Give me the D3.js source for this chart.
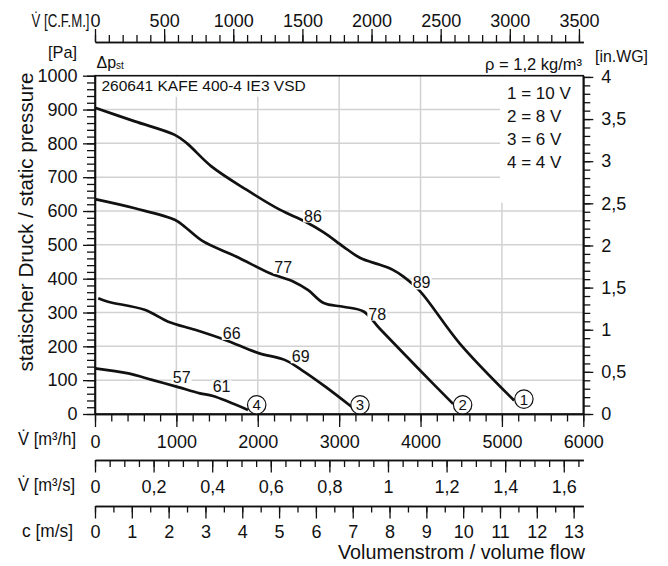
<!DOCTYPE html>
<html>
<head>
<meta charset="utf-8">
<script src="https://cdn.jsdelivr.net/npm/d3@7"></script>
<style>
  html, body { margin: 0; padding: 0; background: #fff; }
  svg { display: block; }
  text { font-family: "Liberation Sans", Arial, sans-serif; fill: #111; }
  .axis path, .axis line { stroke: #111; stroke-width: 1.3; }
  .axis text { font-size: 18px; fill: #111; }
</style>
</head>
<body>
<div id="chart"></div>
<script>
// curves: [volume flow m3/h, static pressure Pa]
var curve1 = [[0, 905], [490, 865], [980, 825], [1130, 800], [1430, 732], [1860, 663], [2270, 604], [2580, 569], [2810, 537], [3050, 495], [3260, 461], [3500, 441], [3660, 426], [3790, 406], [3990, 364], [4480, 209], [5150, 40]]
var curve2 = [[0, 635], [490, 608], [980, 574], [1110, 552], [1330, 510], [1740, 465], [2150, 416], [2440, 391], [2620, 366], [2810, 328], [3050, 317], [3300, 303], [3500, 252], [3990, 130], [4400, 30]]
var curve3 = [[40, 342], [160, 332], [610, 308], [900, 273], [1230, 249], [1600, 219], [2010, 180], [2330, 160], [2540, 130], [2830, 81], [3160, 20]]
var curve4 = [[0, 135], [410, 120], [700, 101], [1000, 81], [1290, 61], [1450, 53], [1880, 12]]

// efficiency labels on the curves
var effLabels = ['86', '89', '77', '78', '66', '69', '57', '61']
var effQ = [2678, 4013, 2313, 3468, 1679, 2527, 1065, 1556]
var effP = [586, 388, 434, 296, 239, 170, 109, 81]

// circled curve numbers
var speedNames = ['1', '2', '3', '4']
var circleQ = [5270, 4517, 3256, 1987]
var circleP = [44, 27, 27, 27]

var legendLines = ['1 = 10 V', '2 = 8 V', '3 = 6 V', '4 = 4 V']

// tick labels
var paTicks = [0, 100, 200, 300, 400, 500, 600, 700, 800, 900, 1000]
var inwgTicks = [0, 0.5, 1, 1.5, 2, 2.5, 3, 3.5, 4]
var cfmTicks = [0, 500, 1000, 1500, 2000, 2500, 3000, 3500]
var m3hTicks = [0, 1000, 2000, 3000, 4000, 5000, 6000]
var m3sTicks = [0, 0.2, 0.4, 0.6, 0.8, 1, 1.2, 1.4, 1.6]
var cTicks = [0, 1, 2, 3, 4, 5, 6, 7, 8, 9, 10, 11, 12, 13]

var Q_MAX = 6000
var CFM = 1.69901 // m3/h per cfm
var INWG = 249.089 // Pa per in.WG
var AREA = Math.PI * 0.2 * 0.2 // m2, 400 mm

var W = 668
var H = 566
var pLeft = 95
var pRight = 583.3
var pTop = 75.7
var pBottom = 414

var svg = d3.select('#chart').append('svg')
  .attr('width', W)
  .attr('height', H)

var x = d3.scaleLinear().domain([0, Q_MAX]).range([pLeft, pRight])
var y = d3.scaleLinear().domain([0, 1000]).range([pBottom, pTop])
var xCfm = d3.scaleLinear().domain([0, Q_MAX / CFM]).range([pLeft, pRight])
var xM3s = d3.scaleLinear().domain([0, Q_MAX / 3600]).range([pLeft, pRight])
var xC = d3.scaleLinear().domain([0, Q_MAX / 3600 / AREA]).range([pLeft, pRight])
var yIn = d3.scaleLinear().domain([0, 1000 / INWG]).range([pBottom, pTop])

var comma = function (v) { return String(+v.toFixed(2)).replace('.', ',') }

// grid
var grid = svg.append('g').attr('stroke', '#d2d2d2').attr('stroke-width', 1.5)
grid.selectAll('line.v').data([1000, 2000, 3000, 4000, 5000]).join('line')
  .attr('class', 'v')
  .attr('x1', function (d) { return x(d) }).attr('x2', function (d) { return x(d) })
  .attr('y1', pTop).attr('y2', pBottom)
grid.selectAll('line.h').data([100, 200, 300, 400, 500, 600, 700, 800, 900]).join('line')
  .attr('class', 'h')
  .attr('x1', pLeft).attr('x2', pRight)
  .attr('y1', function (d) { return y(d) }).attr('y2', function (d) { return y(d) })

// white boxes behind the title and the legend
svg.append('rect').attr('x', pLeft + 1).attr('y', pTop + 1).attr('width', 216).attr('height', 20).attr('fill', '#fff')
svg.append('rect').attr('x', 500).attr('y', pTop + 1).attr('width', pRight - 501).attr('height', 126).attr('fill', '#fff')

svg.append('text').attr('x', 101.5).attr('y', 91)
  .style('font-size', '15.5px').text('260641 KAFE 400-4 IE3 VSD')

svg.selectAll('text.legend').data(legendLines).join('text')
  .attr('class', 'legend')
  .attr('x', 507).attr('y', function (d, i) { return 99 + i * 23 })
  .style('font-size', '17px')
  .text(function (d) { return d })

// frame
svg.append('rect').attr('x', pLeft).attr('y', pTop)
  .attr('width', pRight - pLeft).attr('height', pBottom - pTop)
  .attr('fill', 'none').attr('stroke', '#111').attr('stroke-width', 1.6)

// curves
var line = d3.line()
  .x(function (d) { return x(d[0]) })
  .y(function (d) { return y(d[1]) })
  .curve(d3.curveCatmullRom.alpha(0.5))

svg.append('g').selectAll('path').data([curve1, curve2, curve3, curve4]).join('path')
  .attr('d', line)
  .attr('fill', 'none').attr('stroke', '#111').attr('stroke-width', 2.7)
  .attr('stroke-linejoin', 'round')

// efficiency labels with white background
var eff = svg.append('g').selectAll('g').data(effLabels).join('g')
eff.append('rect').attr('fill', '#fff')
eff.append('text')
  .attr('x', function (d, i) { return x(effQ[i]) })
  .attr('y', function (d, i) { return y(effP[i]) })
  .attr('text-anchor', 'middle').attr('dy', '0.36em')
  .style('font-size', '16px')
  .text(function (d) { return d })
eff.each(function () {
  var g = d3.select(this)
  var b = g.select('text').node().getBBox()
  g.select('rect').attr('x', b.x - 1).attr('y', b.y + 2).attr('width', b.width + 2).attr('height', b.height - 4)
})

// circled curve numbers
var circ = svg.append('g').selectAll('g').data(speedNames).join('g')
  .attr('transform', function (d, i) { return 'translate(' + x(circleQ[i]) + ',' + y(circleP[i]) + ')' })
circ.append('circle').attr('r', 9.2).attr('fill', '#fff').attr('stroke', '#111').attr('stroke-width', 1.2)
circ.append('text').attr('text-anchor', 'middle').attr('dy', '0.36em')
  .style('font-size', '15px').text(function (d) { return d })

// axes
function drawAxis (g, axisFn, scale, minor, minorSize, major, majorSize, pad, fmt) {
  g.attr('class', 'axis')
  g.append('g').call(axisFn(scale).tickValues(minor).tickSize(minorSize).tickSizeOuter(0).tickFormat(''))
  g.append('g').call(axisFn(scale).tickValues(major).tickSize(majorSize).tickSizeOuter(0).tickPadding(pad).tickFormat(fmt))
  g.selectAll('.domain').attr('stroke-width', 1.4)
  return g
}

// top: cfm
drawAxis(svg.append('g').attr('transform', 'translate(0,42)'), d3.axisTop, xCfm,
  d3.range(0, 3501, 100), 7, cfmTicks, 13, 2.5, function (d) { return d })

// left: Pa
drawAxis(svg.append('g').attr('transform', 'translate(' + pLeft + ',0)'), d3.axisLeft, y,
  d3.range(0, 1001, 20), 8, paTicks, 12, 5.5, function (d) { return d })

// right: in.WG
drawAxis(svg.append('g').attr('transform', 'translate(' + pRight + ',0)'), d3.axisRight, yIn,
  d3.range(0, 41).map(function (d) { return d / 10 }), 7, inwgTicks, 10, 8, comma)

// bottom: m3/h
drawAxis(svg.append('g').attr('transform', 'translate(0,' + pBottom + ')'), d3.axisBottom, x,
  d3.range(0, 6001, 200), 7.5, m3hTicks, 13, 8, function (d) { return d })

// m3/s
drawAxis(svg.append('g').attr('transform', 'translate(0,460)'), d3.axisBottom, xM3s,
  d3.range(0, 34).map(function (d) { return d * 0.05 }), 7, m3sTicks, 12.5, 8, comma)

// c m/s
drawAxis(svg.append('g').attr('transform', 'translate(0,506)'), d3.axisBottom, xC,
  d3.range(0, 27).map(function (d) { return d * 0.5 }), 6.5, cTicks, 12.5, 7, function (d) { return d })

// unit labels
function unit (txt, xx, yy, len, anchor, size) {
  return svg.append('text').attr('x', xx).attr('y', yy)
    .attr('text-anchor', anchor || 'end')
    .attr('textLength', len).attr('lengthAdjust', 'spacingAndGlyphs')
    .style('font-size', (size || 18) + 'px')
    .text(txt)
}
unit('V\u0307 [C.F.M.]', 89.5, 26.5, 58)
unit('V\u0307 [m\u00b3/h]', 76, 445, 58)
unit('V\u0307 [m\u00b3/s]', 75, 491, 57)
unit('c [m/s]', 73, 537, 51)
unit('[in.WG]', 595, 62, 53, 'start', 16.5)
unit('[Pa]', 77, 58, 29, 'end', 17)

svg.append('text').attr('x', 582).attr('y', 70).attr('text-anchor', 'end')
  .style('font-size', '16.5px').text('\u03c1 = 1,2 kg/m\u00b3')

var dp = svg.append('text').attr('x', 96.5).attr('y', 68).style('font-size', '16px')
dp.append('tspan').text('\u0394p')
dp.append('tspan').attr('dy', 1).style('font-size', '10px').text('st')

svg.append('text')
  .attr('transform', 'translate(33,222) rotate(-90)')
  .attr('text-anchor', 'middle')
  .attr('textLength', 299).attr('lengthAdjust', 'spacingAndGlyphs')
  .style('font-size', '20px')
  .text('statischer Druck / static pressure')

svg.append('text').attr('x', 585).attr('y', 559).attr('text-anchor', 'end')
  .attr('textLength', 247).attr('lengthAdjust', 'spacingAndGlyphs')
  .style('font-size', '20px')
  .text('Volumenstrom / volume flow')
</script>
</body>
</html>
